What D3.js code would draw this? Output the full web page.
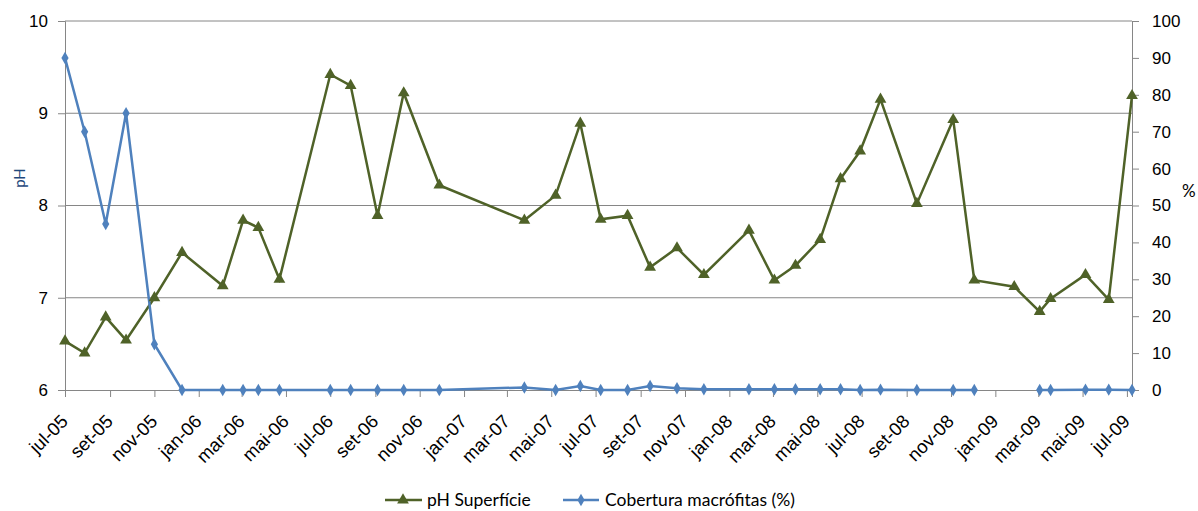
<!DOCTYPE html>
<html>
<head>
<meta charset="utf-8">
<script src="https://cdn.jsdelivr.net/npm/d3@7"></script>
<style>
  body { margin: 0; background: #fff; }
  svg { font-family: Lato, "Open Sans", sans-serif; }
  .axis path, .axis line { stroke: #868686; }
  .axis text { fill: #000; font-size: 17px; }
</style>
</head>
<body>
<script>
// sampling dates (dd/mm/yyyy)
var dates = ['01/07/2005','28/07/2005','26/08/2005','23/09/2005','01/11/2005','09/12/2005',
  '03/02/2006','03/03/2006','24/03/2006','22/04/2006','01/07/2006','29/07/2006','04/09/2006',
  '10/10/2006','28/11/2006','25/03/2007','07/05/2007','10/06/2007','08/07/2007','14/08/2007',
  '14/09/2007','21/10/2007','27/11/2007','28/01/2008','03/03/2008','01/04/2008','05/05/2008',
  '02/06/2008','29/06/2008','27/07/2008','15/09/2008','04/11/2008','03/12/2008','27/01/2009',
  '03/03/2009','18/03/2009','05/05/2009','06/06/2009','08/07/2009'];

var phSuperficie = [6.53,6.40,6.79,6.54,7.00,7.49,7.13,7.84,7.76,7.20,9.42,9.30,7.89,9.22,8.22,
  7.84,8.11,8.89,7.85,7.89,7.33,7.54,7.25,7.73,7.19,7.35,7.63,8.29,8.59,9.15,8.02,8.93,7.19,
  7.12,6.85,6.99,7.25,6.98,9.19];

// null = no measurement (gap in the line)
var cobertura = [90,70,45,75,12.4,0,0,0,0,0,0,0,0,0,0,0.7,0,1.1,0,0,1.1,0.5,0.2,0.2,0.2,0.2,
  0.2,0.2,0,0.1,0,0,0,null,0,0,0.1,0.1,0];

var leftTicks = [6,7,8,9,10];
var rightTicks = [0,10,20,30,40,50,60,70,80,90,100];
var meses = ['jan','fev','mar','abr','mai','jun','jul','ago','set','out','nov','dez'];

var width = 1198, height = 511;
var margin = {left:65, right:66, top:21, bottom:121};
var greenCol = "#4f6228", blueCol = "#4f81bd";

var parse = d3.timeParse("%d/%m/%Y");
var dt = dates.map(parse);

var x = d3.scaleTime()
  .domain([dt[0], dt[dt.length-1]])
  .range([margin.left, width - margin.right]);
var yL = d3.scaleLinear().domain([6,10]).range([height - margin.bottom, margin.top]);
var yR = d3.scaleLinear().domain([0,100]).range([height - margin.bottom, margin.top]);

var svg = d3.select("body").append("svg").attr("width", width).attr("height", height);

// gridlines
svg.append("g").selectAll("line").data(leftTicks.slice(1)).join("line")
  .attr("x1", margin.left).attr("x2", width - margin.right)
  .attr("y1", d => yL(d)).attr("y2", d => yL(d))
  .attr("stroke", "#868686").attr("stroke-width", 1);

// axes
var fmt = function(d){ return meses[d.getMonth()] + "-" + d3.timeFormat("%y")(d); };
var xTicks = d3.timeMonth.every(2).range(dt[0], dt[dt.length-1]);
var xg = svg.append("g").attr("class","axis")
  .attr("transform","translate(0,"+(height - margin.bottom)+")")
  .call(d3.axisBottom(x).tickValues(xTicks).tickFormat(fmt).tickSizeOuter(0).tickSize(7));
xg.selectAll("text")
  .attr("text-anchor","end")
  .attr("x",0).attr("y",0).attr("dy","0.35em")
  .attr("transform","translate(-1,28) rotate(-45)")
  .style("font-size","18.5px");

svg.append("g").attr("class","axis")
  .attr("transform","translate("+margin.left+",0)")
  .call(d3.axisLeft(yL).tickValues(leftTicks).tickFormat(d3.format("d")).tickSizeOuter(0).tickSize(7).tickPadding(10));

svg.append("g").attr("class","axis")
  .attr("transform","translate("+(width - margin.right)+",0)")
  .call(d3.axisRight(yR).tickValues(rightTicks).tickSizeOuter(0).tickSize(7).tickPadding(13));

svg.selectAll(".axis .domain").attr("stroke","#868686");

// axis titles
svg.append("text").attr("transform","translate(25,178) rotate(-90)")
  .attr("text-anchor","middle").style("font-size","15px").attr("fill","#1f497d").text("pH");
svg.append("text").attr("x",1182).attr("y",197).style("font-size","17px").text("%");

// series
var phData = dt.map((d,i) => ({d:d, v:phSuperficie[i]}));
var cobData = dt.map((d,i) => ({d:d, v:cobertura[i]}));

var linePh = d3.line().x(p => x(p.d)).y(p => yL(p.v));
var lineCob = d3.line().defined(p => p.v !== null).x(p => x(p.d)).y(p => yR(p.v));

svg.append("path").attr("d", linePh(phData))
  .attr("fill","none").attr("stroke",greenCol).attr("stroke-width",2.5);
svg.append("path").attr("d", lineCob(cobData))
  .attr("fill","none").attr("stroke",blueCol).attr("stroke-width",2.5);

var tri = d3.symbol().type(d3.symbolTriangle).size(60);
var dia = d3.symbol().type(d3.symbolDiamond).size(45);

svg.append("g").selectAll("path").data(phData).join("path")
  .attr("d", tri).attr("fill", greenCol)
  .attr("transform", p => "translate("+x(p.d)+","+yL(p.v)+")");
svg.append("g").selectAll("path").data(cobData.filter(p => p.v !== null)).join("path")
  .attr("d", dia).attr("fill", blueCol)
  .attr("transform", p => "translate("+x(p.d)+","+yR(p.v)+")");

// legend
var leg = svg.append("g").attr("transform","translate(0,500)");
leg.append("line").attr("x1",385).attr("x2",422).attr("stroke",greenCol).attr("stroke-width",2.5);
leg.append("path").attr("d",tri).attr("fill",greenCol).attr("transform","translate(403,0)");
leg.append("text").attr("x",427).attr("y",6).style("font-size","17.5px").text("pH Superfície");
leg.append("line").attr("x1",563).attr("x2",599).attr("stroke",blueCol).attr("stroke-width",2.5);
leg.append("path").attr("d",dia).attr("fill",blueCol).attr("transform","translate(581,0)");
leg.append("text").attr("x",605).attr("y",6).style("font-size","17.5px").text("Cobertura macrófitas (%)");
</script>
</body>
</html>
